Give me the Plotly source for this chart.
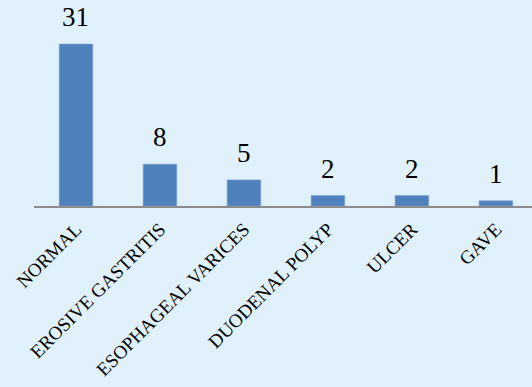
import plotly.graph_objects as go

categories = ["NORMAL", "EROSIVE GASTRITIS", "ESOPHAGEAL VARICES", "DUODENAL POLYP", "ULCER", "GAVE"]
counts = [31, 8, 5, 2, 2, 1]

bg = "#E0F1FB"
bar_color = "#4F81BD"
font_family = "Liberation Serif"

fig = go.Figure()
fig.add_trace(go.Bar(
    x=categories, y=counts,
    marker=dict(color=bar_color, line=dict(color="#7FA3D0", width=0.6)),
    width=0.4,
))

for c, v in zip(categories, counts):
    fig.add_annotation(
        x=c, y=v, text=str(v), showarrow=False,
        yanchor="bottom", yshift=10,
        font=dict(family=font_family, size=27, color="#000000"),
    )

fig.update_layout(
    width=532, height=387,
    margin=dict(l=34, r=0, t=18, b=181, autoexpand=False),
    paper_bgcolor=bg, plot_bgcolor=bg,
    showlegend=False,
    font=dict(family=font_family, color="#000000"),
)
fig.update_xaxes(
    range=[-0.5, 5.43], tickangle=-45,
    tickfont=dict(family=font_family, size=19, color="#000000"),
    ticklabelstandoff=3,
    showline=True, linecolor="#8C8C8C", linewidth=1.5,
    ticks="", showgrid=False, automargin=False,
)
fig.update_yaxes(
    range=[0, 36], visible=False, showgrid=False, automargin=False,
)

fig.write_html("out.html")
